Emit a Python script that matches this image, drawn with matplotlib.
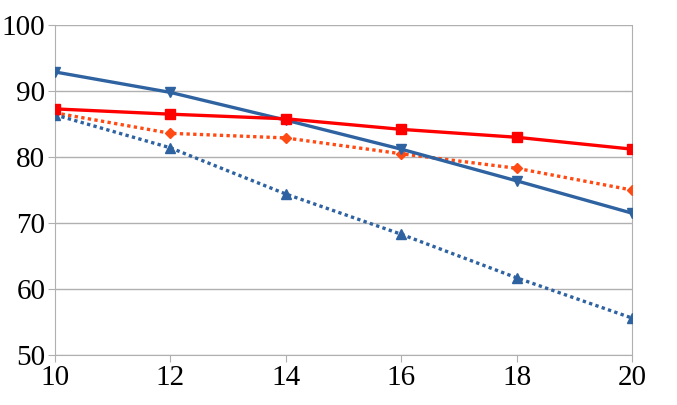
import numpy as np
import matplotlib.pyplot as plt

x = [10, 12, 14, 16, 18, 20]
red_sq = [87.3, 86.5, 85.8, 84.2, 83.0, 81.2]
orange_dm = [86.7, 83.6, 82.9, 80.5, 78.3, 75.0]
blue_dn = [92.9, 89.8, 85.6, 81.2, 76.4, 71.5]
blue_up = [86.4, 81.4, 74.4, 68.3, 61.7, 55.6]

plt.rcParams['font.family'] = ['Liberation Serif', 'DejaVu Serif']

fig = plt.figure(figsize=(6.77, 4.05), dpi=100)
ax = fig.add_axes([0.0812, 0.1235, 0.8523, 0.8145])

blue = '#2E62A0'
ax.plot(x, red_sq, color='#FF0000', lw=2.4, marker='s', ms=7.5, zorder=4)
ax.plot(x, orange_dm, color='#FF4A14', lw=2.4, ls=(0, (1, 1)), marker='D', ms=5.5, zorder=3)
ax.plot(x, blue_dn, color=blue, lw=2.4, marker='v', ms=7.5, zorder=3)
ax.plot(x, blue_up, color=blue, lw=2.4, ls=(0, (1, 1)), marker='^', ms=7.5, zorder=3)

ax.set_xlim(10, 20)
ax.set_ylim(50, 100)
ax.set_xticks(x)
ax.set_yticks([50, 60, 70, 80, 90, 100])
ax.yaxis.grid(True, color='#b0b0b0', lw=1)
ax.set_axisbelow(True)
for s in ['top', 'bottom', 'left', 'right']:
    ax.spines[s].set_color('#b0b0b0')
ax.spines['top'].set_visible(False)
ax.tick_params(colors='#b0b0b0', labelcolor='black', labelsize=21, length=5, pad=2)

fig.savefig('out.png')
